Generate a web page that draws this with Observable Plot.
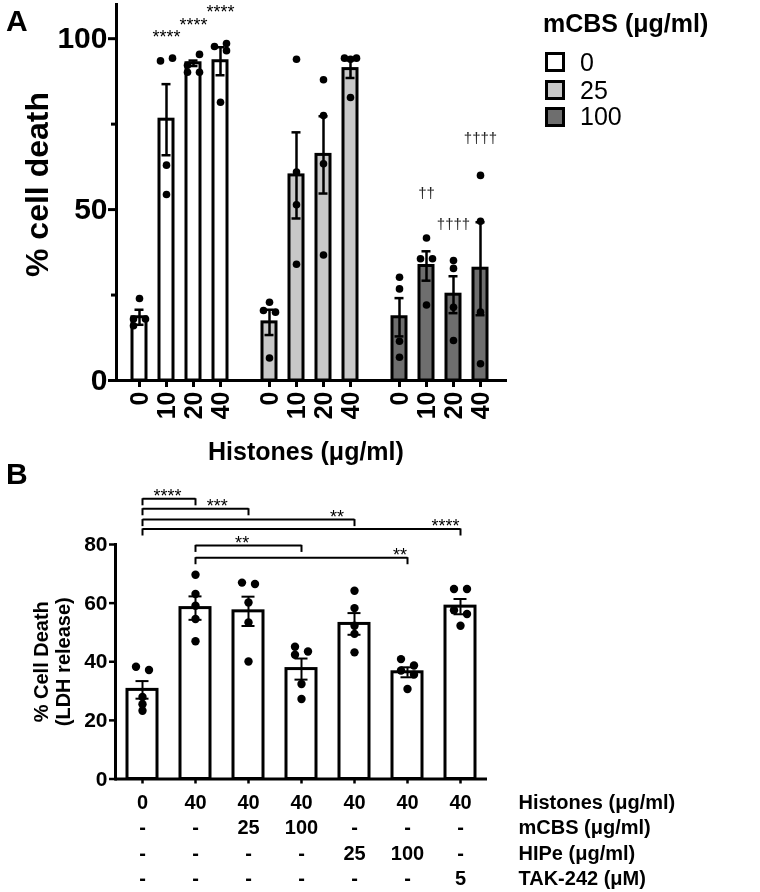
<!DOCTYPE html>
<html><head><meta charset="utf-8">
<script src="https://cdn.jsdelivr.net/npm/d3@7"></script>
<script src="https://cdn.jsdelivr.net/npm/@observablehq/plot@0.6"></script>
<style>
body{margin:0;background:#fff;font-family:"Liberation Sans",Arial,sans-serif;}
#wrap{position:relative;width:760px;height:892px;overflow:hidden;background:#fff}
.abs{position:absolute;line-height:1;white-space:nowrap;color:#000}
.sw{position:absolute;width:20px;height:20px;box-sizing:border-box;border:3px solid #000}
svg{position:absolute;left:0;will-change:transform}
</style></head><body><div id="wrap"></div>
<script>
// ---------- Panel A data ----------
const groupsA = ["0", "25", "100"];          // mCBS (µg/ml)
const dosesA = ["0", "10", "20", "40"];      // Histones (µg/ml)
const colorsA = ["#ffffff", "#c8c8c8", "#6e6e6e"];
const meanA0 = [18.5, 76.3, 92.8, 93.4];
const semA0 = [2.2, 10.4, 0.8, 4.1];
const meanA25 = [17.0, 60.0, 66.0, 91.1];
const semA25 = [3.7, 12.6, 11.3, 2.6];
const meanA100 = [18.5, 33.5, 25.1, 32.7];
const semA100 = [5.6, 4.3, 5.4, 13.6];
const ptsA0 = [[24, 18, 18, 16], [93.5, 94.3, 63, 54.4], [95.4, 92.2, 90.2, 90.2], [97.7, 98.6, 96.5, 81.4]];
const sideA0 = [[0, -1, 1, -1], [-1, 1, 0, 0], [1, -1, -1, 1], [-1, 1, 1, 0]];
const ptsA25 = [[22.9, 20.5, 20, 6.6], [94, 61, 51.4, 34], [88, 77.5, 63.4, 36.7], [94.3, 94.3, 94, 82.8]];
const sideA25 = [[0, -1, 1, 0], [0, 0, 0, 0], [0, 0, 0, 0], [-1, 1, 0, 0]];
const ptsA100 = [[30.2, 26.8, 11.5, 6.8], [41.7, 35.6, 35.6, 22.1], [35.1, 32.8, 21.4, 11.7], [60, 46.6, 20, 4.9]];
const sideA100 = [[0, 0, 0, 0], [0, -1, 1, 0], [0, 0, 0, 0], [0, 0, 0, 0]];
const sigGroupA = ["0", "0", "0", "100", "100", "100"];
const sigDoseA = ["10", "20", "40", "10", "20", "40"];
const sigYA = [101.9, 105.3, 109.2, 54.7, 45.8, 71];
const sigLabelA = ["****", "****", "****", "††", "††††", "††††"];
const yTicksA = [0, 50, 100];
const yMinorA = [25, 75];

// ---------- Panel B data ----------
const condB = ["c0", "c1", "c2", "c3", "c4", "c5", "c6"];
const histRowB = ["0", "40", "40", "40", "40", "40", "40"];
const mcbsRowB = ["-", "-", "25", "100", "-", "-", "-"];
const hipeRowB = ["-", "-", "-", "-", "25", "100", "-"];
const takRowB = ["-", "-", "-", "-", "-", "-", "5"];
const rowLabelsB = ["Histones (μg/ml)", "mCBS (μg/ml)", "HIPe (μg/ml)", "TAK-242 (μM)"];
const meanB = [30.4, 58.3, 57.2, 37.5, 52.9, 36.4, 58.8];
const semB = [3.0, 4.0, 5.0, 3.6, 3.7, 1.7, 2.6];
const ptsB = [
  [38.3, 37.2, 28, 25.5, 23.3],
  [69.7, 63.1, 59.1, 54.6, 47],
  [67, 66.5, 60.2, 53.4, 40.1],
  [45.1, 42.4, 43.5, 32.4, 27.3],
  [64.2, 58.3, 52.3, 49.5, 43.2],
  [40.9, 38.7, 37, 35.6, 30.7],
  [64.8, 64.8, 57.6, 56.3, 52.3]
];
const sideB = [
  [-1, 1, 0, 0, 0], [0, 0, 0, 0, 0], [-1, 1, 0, 0, 0], [-1, -1, 1, 0, 0],
  [0, 0, 0, 0, 0], [-1, 1, -1, 1, 0], [-1, 1, -1, 1, 0]
];
const brFromB = [0, 0, 0, 0, 1, 1];
const brToB = [1, 2, 4, 6, 3, 5];
const brLevelB = [95.6, 92.2, 88.5, 85.3, 79.7, 75.5];
const brLabelB = ["****", "***", "**", "****", "**", "**"];
const brLabelAtB = [0.47, 1.41, 3.67, 5.72, 1.88, 4.86];
const yTicksB = [0, 20, 40, 60, 80];

const FONT = "Liberation Sans, Arial, Helvetica, sans-serif";

// ---------- build tables A ----------
const meansA = [meanA0, meanA25, meanA100], semsA = [semA0, semA25, semA100];
const ptsAll = [ptsA0, ptsA25, ptsA100], sidesAll = [sideA0, sideA25, sideA100];
const barsA = [], dotsA = [];
groupsA.forEach((g, gi) => dosesA.forEach((d, di) => {
  barsA.push({group: g, dose: d, mean: meansA[gi][di], sem: semsA[gi][di]});
  ptsAll[gi][di].forEach((v, k) => dotsA.push({group: g, dose: d, v, side: sidesAll[gi][di][k]}));
}));
const sigA = sigLabelA.map((t, i) => ({group: sigGroupA[i], dose: sigDoseA[i], y: sigYA[i], label: t}));

const dotMarksA = [-1, 0, 1].map(s => Plot.dot(dotsA.filter(d => d.side === s), {
  fx: "group", x: "dose", y: "v", r: 3.8, fill: "#000", stroke: "none", dx: s * 6
}));

const plotA = Plot.plot({
  width: 760, height: 470,
  marginLeft: 116, marginRight: 256, marginTop: 4, marginBottom: 90,
  style: {fontFamily: FONT, background: "transparent", color: "#000", overflow: "visible"},
  fx: {domain: groupsA, paddingInner: 0.0154, paddingOuter: 0, axis: null, label: null},
  x: {domain: dosesA, paddingInner: 0.464, paddingOuter: 0.518, axis: null, label: null},
  y: {domain: [0, 110], axis: null, label: null},
  color: {domain: groupsA, range: colorsA},
  marks: [
    Plot.barY(barsA, {fx: "group", x: "dose", y: "mean", fill: "group", stroke: "#000", strokeWidth: 3}),
    ...dotMarksA,
    Plot.ruleX(barsA, {fx: "group", x: "dose", y1: d => d.mean - d.sem, y2: d => d.mean + d.sem, stroke: "#000", strokeWidth: 2.5}),
    Plot.tickY(barsA, {fx: "group", x: "dose", y: d => d.mean + d.sem, stroke: "#000", strokeWidth: 2.5, inset: 2.5}),
    Plot.tickY(barsA, {fx: "group", x: "dose", y: d => d.mean - d.sem, stroke: "#000", strokeWidth: 2.5, inset: 2.5}),
    Plot.text(sigA.filter(d => d.label.startsWith("*")), {fx: "group", x: "dose", y: "y", text: "label", fontSize: 18, dy: 4.6, fill: "#000"}),
    Plot.text(sigA.filter(d => !d.label.startsWith("*")), {fx: "group", x: "dose", y: "y", text: "label", fontSize: 15, fill: "#222"}),
    Plot.ruleY([0], {stroke: "#000", strokeWidth: 3, insetRight: -3}),
    Plot.frame({anchor: "left", stroke: "#000", strokeWidth: 3, facetAnchor: "left"}),
    Plot.axisY({ticks: yTicksA, tickSize: 8, tickPadding: 1, fontSize: 30, fontWeight: "bold", strokeWidth: 3, label: null}),
    Plot.axisY({ticks: yMinorA, tickSize: 5, tickFormat: () => "", strokeWidth: 3, label: null}),
    Plot.axisX({tickSize: 7, tickPadding: 4, tickRotate: -90, fontSize: 25, fontWeight: "bold", strokeWidth: 3, label: null}),
    Plot.text(["% cell death"], {frameAnchor: "left", textAnchor: "middle", rotate: -90, dx: -79, dy: -8, fontSize: 32, fontWeight: "bold", fill: "#000", facetAnchor: "left"})
  ]
});

// ---------- build tables B ----------
const barsB = condB.map((c, i) => ({cond: c, mean: meanB[i], sem: semB[i]}));
const dotsB = [];
condB.forEach((c, i) => ptsB[i].forEach((v, k) => dotsB.push({cond: c, v, side: sideB[i][k]})));
const LEG = 2.4;
const brB = brLabelB.map((t, i) => ({from: condB[brFromB[i]], to: condB[brToB[i]], level: brLevelB[i], label: t, at: brLabelAtB[i]}));
const legsB = brB.flatMap(b => [{cond: b.from, level: b.level}, {cond: b.to, level: b.level}]);

const xOptsB = {domain: condB, range: [115, 487], paddingInner: 0.436, paddingOuter: 0.216};
const xScaleB = Plot.scale({x: xOptsB});
const stepB = xScaleB.step;

const dotMarksB = [-1, 0, 1].map(s => Plot.dot(dotsB.filter(d => d.side === s), {
  x: "cond", y: "v", r: 4.2, fill: "#000", stroke: "none", dx: s * 6.5
}));
const labelMarksB = brB.map(b => {
  const base = Math.round(b.at);
  return Plot.text([b], {x: () => condB[base], y: "level", text: "label", fontSize: 18, dy: -2.5, dx: (b.at - base) * stepB, fill: "#000"});
});
const fmtB = d => {
  const i = condB.indexOf(d);
  return [histRowB[i], mcbsRowB[i], hipeRowB[i], takRowB[i]].join("\n");
};

const plotB = Plot.plot({
  width: 760, height: 422,
  marginLeft: 115, marginRight: 273, marginTop: 74, marginBottom: 113.5,
  style: {fontFamily: FONT, background: "transparent", color: "#000", overflow: "visible"},
  x: {domain: condB, paddingInner: 0.436, paddingOuter: 0.216, axis: null, label: null},
  y: {domain: [0, 80], axis: null, label: null},
  marks: [
    Plot.barY(barsB, {x: "cond", y: "mean", fill: "#fff", stroke: "#000", strokeWidth: 3}),
    ...dotMarksB,
    Plot.ruleX(barsB, {x: "cond", y1: d => d.mean - d.sem, y2: d => d.mean + d.sem, stroke: "#000", strokeWidth: 2}),
    Plot.tickY(barsB, {x: "cond", y: d => d.mean + d.sem, stroke: "#000", strokeWidth: 2, inset: 8.5}),
    Plot.tickY(barsB, {x: "cond", y: d => d.mean - d.sem, stroke: "#000", strokeWidth: 2, inset: 8.5}),
    Plot.link(brB, {x1: "from", x2: "to", y1: "level", y2: "level", stroke: "#000", strokeWidth: 2}),
    Plot.ruleX(legsB, {x: "cond", y1: "level", y2: d => d.level - LEG, stroke: "#000", strokeWidth: 2}),
    ...labelMarksB,
    Plot.ruleY([0], {stroke: "#000", strokeWidth: 3}),
    Plot.frame({anchor: "left", stroke: "#000", strokeWidth: 3}),
    Plot.axisY({ticks: yTicksB, tickSize: 6, tickPadding: 2, fontSize: 21, fontWeight: "bold", strokeWidth: 2.5, label: null}),
    Plot.axisX({tickSize: 5, tickPadding: 7, fontSize: 20, fontWeight: "bold", lineHeight: 1.27, strokeWidth: 2.5, tickFormat: fmtB, label: null}),
    Plot.text([rowLabelsB.join("\n")], {frameAnchor: "bottom-right", textAnchor: "start", lineAnchor: "top", dx: 31, dy: 12, fontSize: 20, fontWeight: "bold", lineHeight: 1.27, fill: "#000"}),
    Plot.text(["% Cell Death\n(LDH release)"], {frameAnchor: "left", textAnchor: "middle", rotate: -90, dx: -64, fontSize: 20, fontWeight: "bold", lineHeight: 1.1, fill: "#000"})
  ]
});

// ---------- assemble ----------
const wrap = document.getElementById("wrap");
plotA.style.top = "0px";
plotB.style.top = "470px";
wrap.appendChild(plotA);
wrap.appendChild(plotB);

function addText(txt, left, top, size, weight) {
  const el = document.createElement("div");
  el.className = "abs";
  el.textContent = txt;
  el.style.left = left + "px"; el.style.top = top + "px";
  el.style.fontSize = size + "px"; el.style.fontWeight = weight;
  wrap.appendChild(el);
}
addText("A", 6, 6, 30, "bold");
addText("B", 6, 459, 30, "bold");
addText("Histones (μg/ml)", 208, 439, 25, "bold");
// legend
addText("mCBS (μg/ml)", 543, 11, 25, "bold");
const swTops = [52, 80, 107], lbTops = [50, 78, 104];
groupsA.forEach((g, i) => {
  const s = document.createElement("div");
  s.className = "sw";
  s.style.left = "545px"; s.style.top = swTops[i] + "px"; s.style.background = colorsA[i];
  wrap.appendChild(s);
  addText(g, 580, lbTops[i], 25, "normal");
});
</script></body></html>
